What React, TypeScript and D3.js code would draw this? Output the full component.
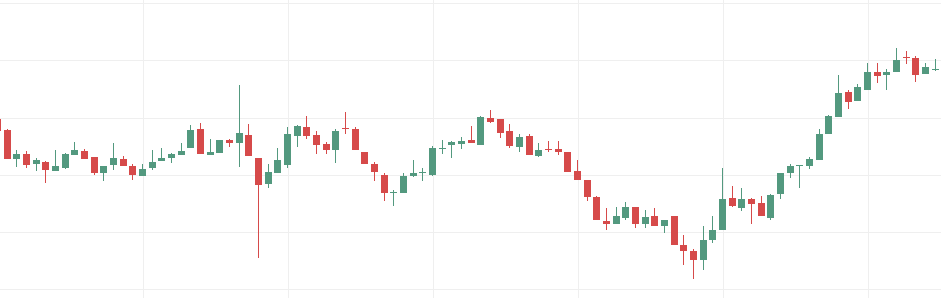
import React from "react";
import * as d3 from "d3";

const opens = [
  129.70, 127.78, 122.85, 123.72, 121.85, 122.32, 120.63, 121.28, 123.43, 124.25,
  123.20, 120.28, 121.68, 122.85, 121.63, 119.88, 121.28, 122.38, 123.02, 123.43,
  124.65, 127.95, 123.43, 123.78, 126.03, 125.56, 126.91, 123.02, 118.36, 120.28,
  121.80, 126.78, 128.30, 126.91, 125.33, 124.30, 128.13, 127.95, 124.07, 121.98,
  120.05, 116.85, 116.78, 119.88, 120.35, 120.05, 124.65, 125.21, 125.39, 126.03,
  125.21, 129.88, 129.70, 127.61, 124.86, 126.78, 123.25, 124.60, 124.60, 124.07,
  120.75, 119.18, 116.22, 111.98, 111.50, 112.55, 114.42, 111.50, 112.85, 110.98,
  112.73, 107.74, 106.69, 105.12, 108.65, 110.28, 116.00, 114.30, 115.82, 115.12,
  112.38, 116.60, 120.28, 121.57, 121.50, 122.67, 127.13, 130.10, 134.48, 132.90,
  134.82, 137.95, 137.48, 137.95, 140.66, 140.40, 137.66, 138.48,
];
const highs = [
  129.88, 127.95, 124.30, 124.25, 123.02, 122.40, 124.30, 123.90, 125.70, 124.60,
  123.20, 121.63, 125.65, 123.25, 121.92, 121.98, 124.30, 124.77, 123.90, 125.52,
  128.71, 129.06, 126.21, 126.03, 126.21, 135.65, 128.83, 123.02, 121.98, 124.77,
  128.30, 128.65, 130.23, 127.61, 125.68, 127.95, 130.93, 128.43, 124.07, 122.20,
  120.40, 117.43, 120.40, 122.67, 121.28, 125.12, 126.03, 125.91, 126.61, 128.53,
  130.28, 131.28, 129.70, 128.83, 127.13, 127.13, 125.51, 125.86, 125.86, 124.07,
  122.67, 119.18, 116.35, 114.25, 114.47, 115.30, 114.42, 113.90, 114.25, 112.15,
  112.73, 109.53, 107.04, 110.98, 112.73, 121.15, 118.13, 117.78, 116.00, 116.35,
  116.73, 120.40, 121.98, 121.75, 123.20, 128.08, 130.52, 137.48, 134.89, 135.82,
  139.48, 139.65, 138.48, 142.15, 141.68, 140.75, 139.48, 140.23,
];
const lows = [
  127.61, 122.76, 121.45, 121.22, 120.63, 118.53, 120.60, 121.10, 123.40, 122.70,
  119.93, 118.88, 120.80, 121.50, 119.13, 119.88, 120.93, 122.38, 122.03, 123.43,
  124.65, 123.60, 123.43, 123.78, 124.86, 121.33, 123.25, 105.42, 117.66, 120.28,
  121.28, 124.86, 126.21, 123.60, 123.60, 122.03, 127.08, 124.30, 121.85, 118.95,
  115.35, 114.65, 116.78, 119.70, 118.88, 119.76, 123.67, 122.90, 124.51, 125.56,
  125.21, 129.06, 126.43, 124.69, 123.99, 123.43, 123.08, 123.99, 123.43, 120.45,
  119.18, 115.35, 112.03, 110.40, 111.50, 112.15, 110.80, 110.63, 111.15, 109.83,
  107.80, 104.30, 101.85, 103.37, 108.15, 110.28, 114.47, 113.72, 111.50, 112.90,
  112.03, 115.70, 119.41, 117.66, 121.05, 122.67, 127.13, 130.10, 131.50, 132.90,
  134.82, 136.08, 134.86, 137.95, 139.41, 136.21, 137.66, 138.13,
];
const closes = [
  127.66, 122.85, 123.72, 121.80, 122.55, 120.80, 121.63, 123.72, 124.42, 122.73,
  120.28, 121.63, 123.02, 121.50, 119.93, 121.10, 122.32, 123.02, 123.72, 124.25,
  127.78, 123.60, 124.07, 126.03, 125.63, 127.26, 123.25, 118.18, 120.58, 122.67,
  127.08, 128.48, 126.78, 125.21, 124.30, 127.61, 127.95, 124.30, 121.85, 120.52,
  116.78, 117.01, 119.88, 120.40, 120.52, 124.72, 124.77, 125.68, 125.86, 125.56,
  130.10, 129.23, 127.31, 125.04, 126.56, 123.43, 124.42, 124.42, 123.99, 120.58,
  119.18, 116.05, 112.15, 111.33, 112.85, 114.42, 111.50, 112.67, 111.15, 112.15,
  107.80, 106.75, 105.12, 108.65, 110.40, 115.82, 114.60, 115.82, 115.00, 112.90,
  116.52, 120.40, 121.63, 121.68, 122.80, 127.13, 130.23, 134.25, 132.73, 135.30,
  137.95, 137.31, 137.95, 140.05, 140.49, 137.48, 138.83, 138.60,
];

const priceTicks = [100, 110, 120, 130, 140, 150];
const timeGridEvery = 15;

const W = 941;
const H = 298;
const UP = "#53997f";
const DOWN = "#d64a4a";
const GRID = "#efefef";

export default function App() {
  const n = opens.length;
  const x = d3.scaleLinear().domain([0, n - 1]).range([-2.4, 935.3]);
  const y = d3.scaleLinear().domain([100, 150]).range([289.3, 3.3]);
  const bodyW = 7;
  const vGrid = d3.range(timeGridEvery, n, timeGridEvery);
  const idx = d3.range(n);

  return (
    <svg
      width={W}
      height={H}
      style={{ position: "absolute", left: 0, top: 0, background: "#ffffff" }}
    >
      <g>
        {priceTicks.map((p) => (
          <line
            key={"h" + p}
            x1={0}
            x2={W}
            y1={Math.round(y(p)) + 0.5}
            y2={Math.round(y(p)) + 0.5}
            stroke={GRID}
            strokeWidth={1}
          />
        ))}
        {vGrid.map((k) => (
          <line
            key={"v" + k}
            x1={Math.round(x(k)) + 0.5}
            x2={Math.round(x(k)) + 0.5}
            y1={0}
            y2={H}
            stroke={GRID}
            strokeWidth={1}
          />
        ))}
      </g>
      <g>
        {idx.map((i) => {
          const o = opens[i];
          const c = closes[i];
          const hi = highs[i];
          const lo = lows[i];
          const up = c >= o;
          const color = up ? UP : DOWN;
          const cx = x(i);
          const left = Math.round(cx - bodyW / 2);
          const wx = left + Math.floor(bodyW / 2);
          const top = Math.round(y(Math.max(o, c)));
          const bot = Math.round(y(Math.min(o, c)));
          const yHi = Math.round(y(hi));
          const yLo = Math.round(y(lo));
          return (
            <g key={i}>
              <rect x={wx} y={yHi} width={1} height={Math.max(1, yLo - yHi)} fill={color} />
              <rect x={left} y={top} width={bodyW} height={Math.max(1, bot - top)} fill={color} />
            </g>
          );
        })}
      </g>
    </svg>
  );
}
